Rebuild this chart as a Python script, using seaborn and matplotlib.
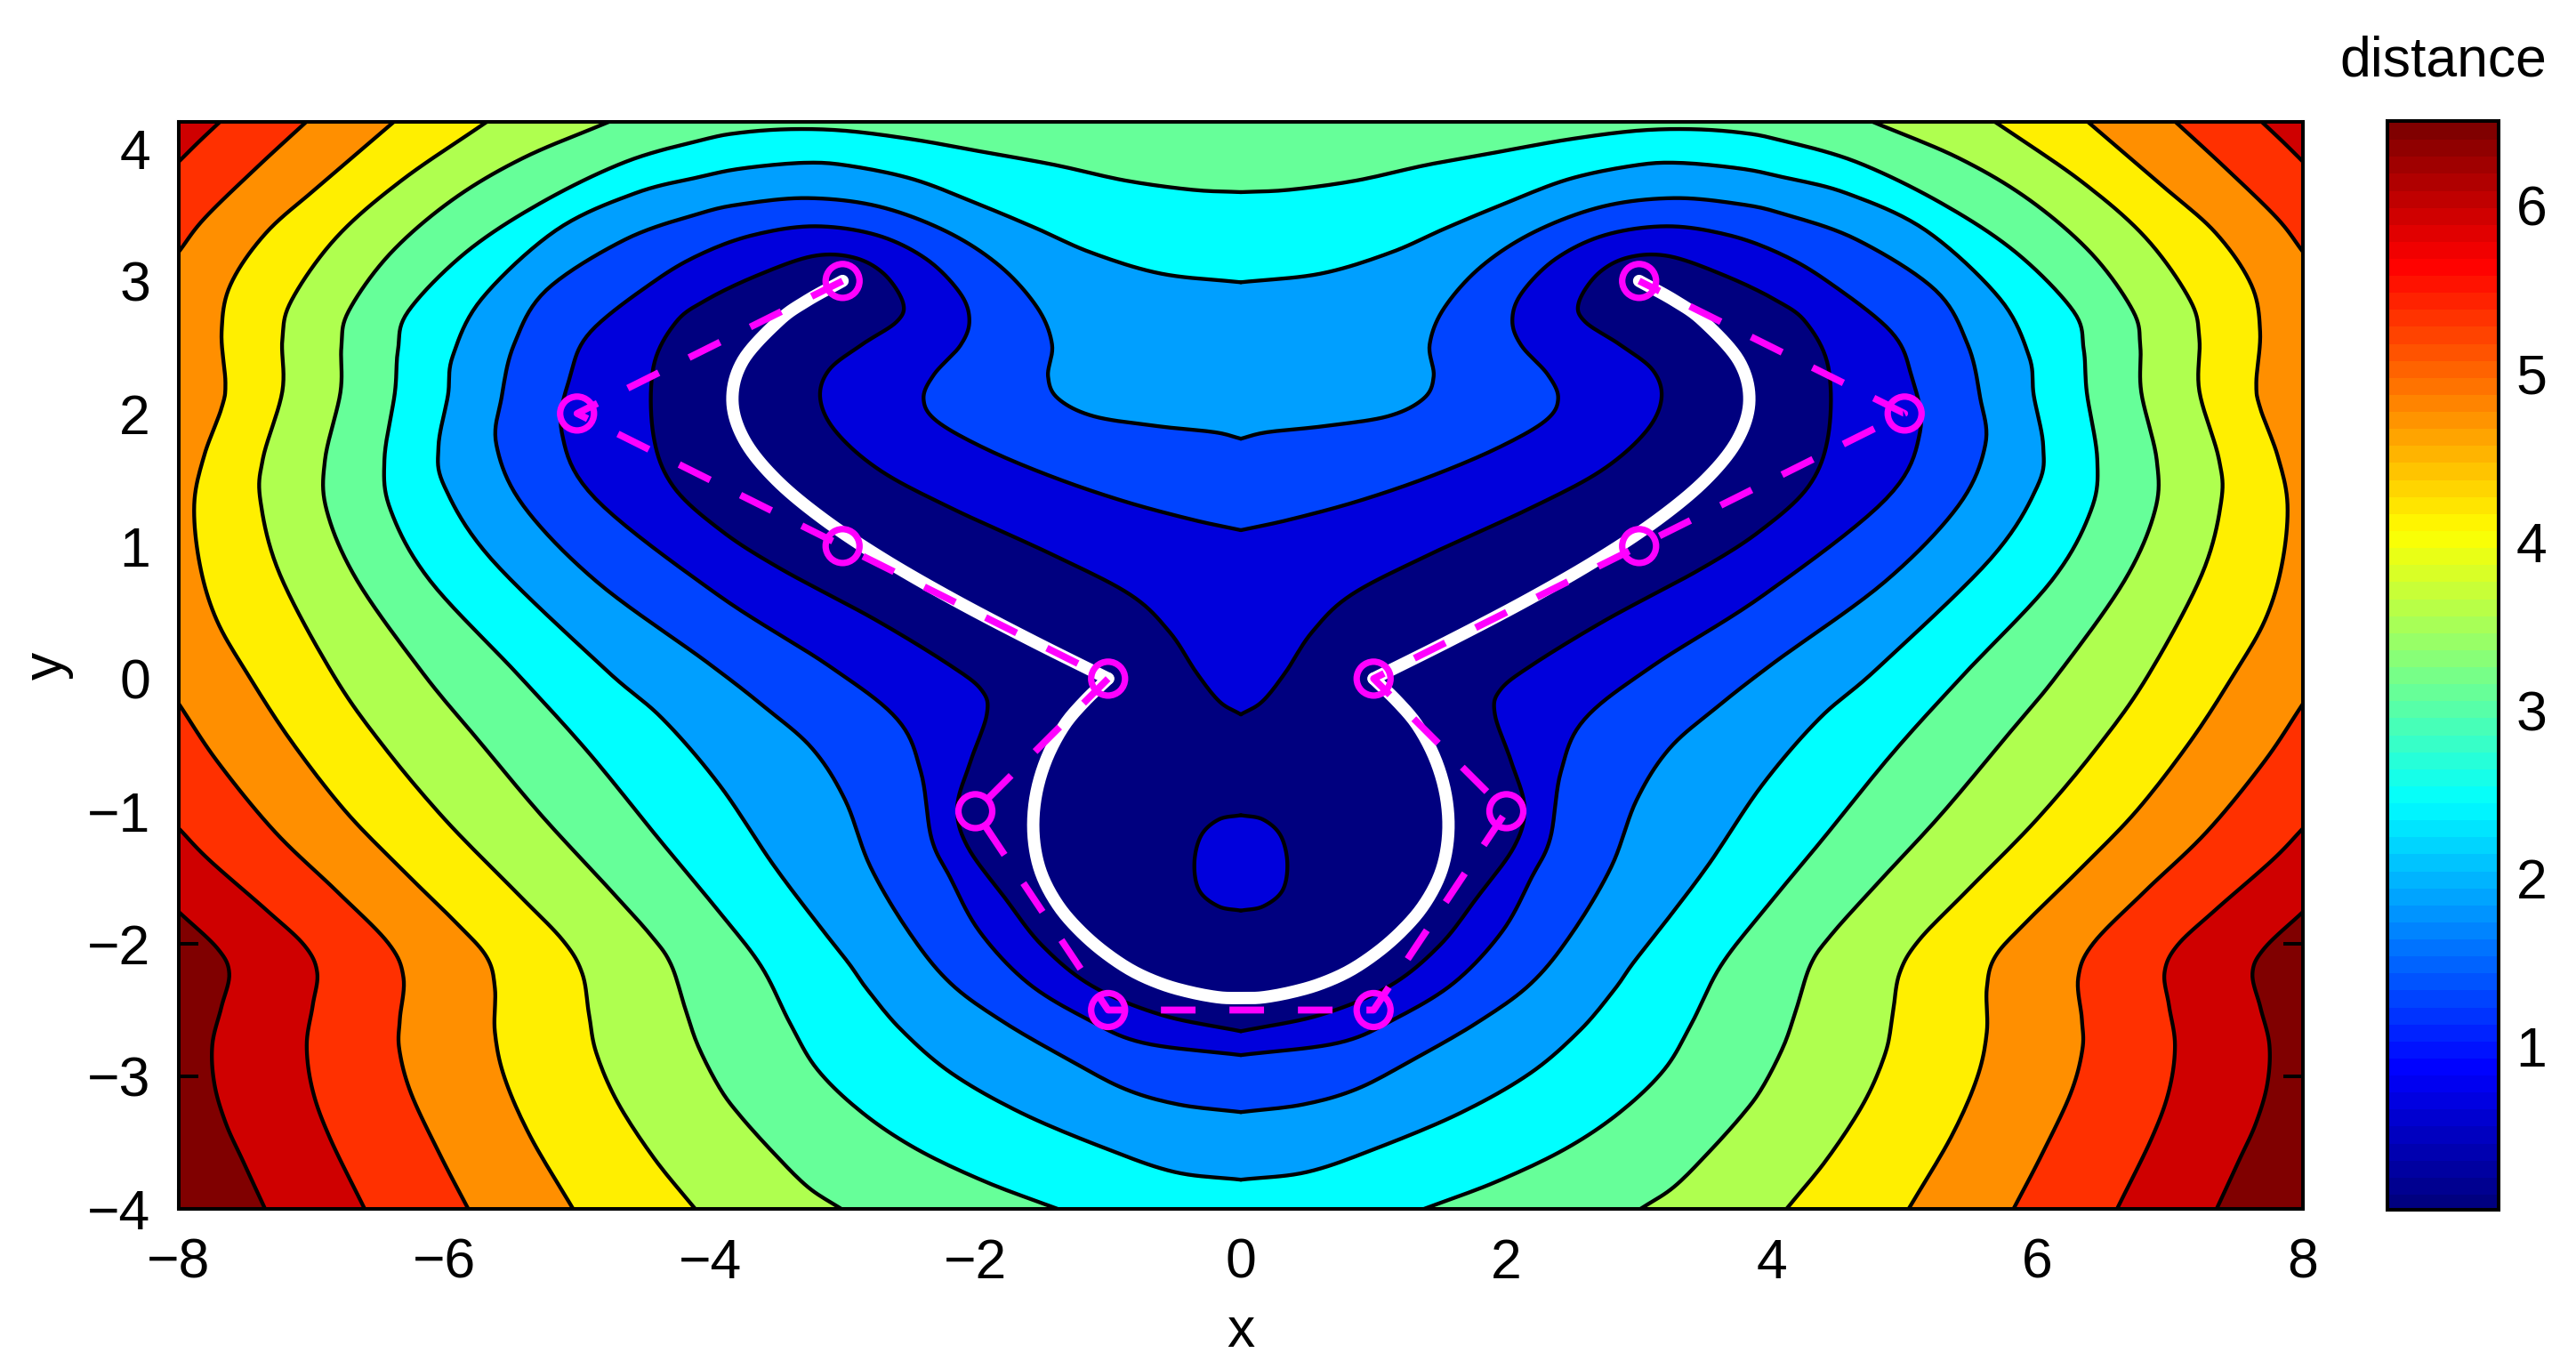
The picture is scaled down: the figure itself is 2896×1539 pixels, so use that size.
import numpy as np
import matplotlib
matplotlib.use("Agg")
import matplotlib.pyplot as plt
from matplotlib.cm import ScalarMappable
from matplotlib.colors import LinearSegmentedColormap, Normalize
import seaborn as sns

# ---------------------------
# Data
# ---------------------------

ctrl_x = [-3, -5, -3, -1, -2, -1, 1, 2, 1, 3, 5, 3]
ctrl_y = [3, 2, 1, 0, -1, -2.5, -2.5, -1, 0, 1, 2, 3]

# white curve, left half only (the chart is mirrored around x=0)
curve_top = [(-3.0, 3.0), (-3.27, 2.85), (-3.48, 2.7), (-3.75, 2.4), (-3.83, 2.1), (-3.74, 1.8), (-3.5, 1.5),
             (-3.14, 1.2), (-2.69, 0.9), (-2.17, 0.6), (-1.6, 0.3), (-1.0, 0.0)]
curve_loop = [(-1.0, 0.0), (-1.18, -0.17), (-1.33, -0.34), (-1.46, -0.58), (-1.54, -0.83), (-1.57, -1.08),
              (-1.55, -1.32), (-1.49, -1.52), (-1.37, -1.73), (-1.22, -1.9), (-1.04, -2.06), (-0.82, -2.21),
              (-0.59, -2.31), (-0.37, -2.37), (-0.15, -2.41), (0.0, -2.41)]

# iso-distance lines, left half, one list per line piece
iso_062 = [[(0, -0.27), (-0.16, -0.19), (-0.33, 0.03), (-0.53, 0.36), (-0.79, 0.63), (-1.4, 0.93), (-2.2, 1.29),
            (-2.73, 1.56), (-3.07, 1.86), (-3.19, 2.11), (-3.13, 2.33), (-2.86, 2.52), (-2.56, 2.7), (-2.52, 2.82),
            (-2.68, 3.07), (-2.91, 3.19), (-3.21, 3.21), (-3.66, 3.04), (-4.05, 2.85), (-4.26, 2.71), (-4.45, 2.38),
            (-4.44, 1.81), (-4.31, 1.45), (-3.92, 1.11), (-3.52, 0.85), (-2.73, 0.44), (-2.15, 0.08), (-1.93, -0.09),
            (-1.89, -0.24), (-2.04, -0.63), (-2.16, -0.98), (-2.09, -1.25), (-1.77, -1.66), (-1.51, -2.02),
            (-1.14, -2.33), (-0.61, -2.55), (0, -2.66)]]
iso_hole = [[(0, -1.03), (-0.17, -1.05), (-0.31, -1.17), (-0.36, -1.39), (-0.33, -1.61), (-0.17, -1.73), (0, -1.75)]]
iso_120 = [[(0, 1.12), (-0.34, 1.19), (-0.87, 1.33), (-1.4, 1.51), (-1.93, 1.73), (-2.33, 1.95), (-2.41, 2.11),
            (-2.33, 2.29), (-2.09, 2.52), (-2.03, 2.7), (-2.09, 2.9), (-2.36, 3.18), (-2.73, 3.36), (-3.21, 3.43),
            (-3.66, 3.36), (-4.05, 3.22), (-4.37, 3.04), (-4.96, 2.6), (-5.05, 2.3), (-5.15, 1.86), (-4.97, 1.4),
            (-3.92, 0.6), (-3.06, 0.08), (-2.54, -0.31), (-2.4, -0.68), (-2.34, -1.25), (-2.2, -1.47), (-1.99, -1.91),
            (-1.62, -2.31), (-1.14, -2.58), (-0.79, -2.76), (0, -2.84)]]
iso_179 = [[(0, 1.81), (-0.16, 1.86), (-0.61, 1.9), (-1.14, 1.97), (-1.4, 2.11), (-1.47, 2.27), (-1.4, 2.52),
            (-1.51, 2.79), (-1.8, 3.12), (-2.2, 3.38), (-2.73, 3.58), (-3.26, 3.64), (-3.79, 3.58), (-4.05, 3.52),
            (-4.63, 3.34), (-5.29, 2.93), (-5.49, 2.52), (-5.57, 2.11), (-5.64, 1.78), (-5.45, 1.32), (-4.9, 0.74),
            (-3.95, 0.08), (-3.58, -0.22), (-3.21, -0.52), (-2.97, -0.9), (-2.81, -1.42), (-2.49, -1.94),
            (-2.2, -2.31), (-1.8, -2.59), (-1.27, -2.89), (-0.87, -3.11), (-0.48, -3.22), (0, -3.27)]]
iso_238 = [[(0, 2.99), (-0.61, 3.04), (-1.14, 3.21), (-1.54, 3.4), (-1.93, 3.56), (-2.46, 3.78), (-2.99, 3.88),
            (-3.26, 3.9), (-3.79, 3.85), (-4.05, 3.79), (-4.55, 3.68), (-5.16, 3.42), (-5.77, 2.85), (-5.96, 2.41),
            (-5.96, 2.16), (-6.06, 1.73), (-6.03, 1.48), (-5.74, 0.96), (-4.71, -0.01), (-4.37, -0.27), (-3.92, -0.79),
            (-3.52, -1.42), (-3.18, -1.86), (-2.94, -2.16), (-2.83, -2.33), (-2.57, -2.65), (-2.2, -2.98),
            (-1.67, -3.28), (-1.01, -3.55), (-0.5, -3.74), (0, -3.78)]]
iso_297 = [[(0, 3.67), (-0.34, 3.68), (-0.87, 3.75), (-1.4, 3.88), (-1.93, 3.97), (-2.46, 4.07), (-2.99, 4.14),
            (-3.39, 4.15), (-3.79, 4.12), (-4.0, 4.08), (-4.63, 3.92), (-5.29, 3.59), (-5.85, 3.23), (-6.33, 2.74),
            (-6.35, 2.49), (-6.36, 2.19), (-6.47, 1.62), (-6.43, 1.29), (-6.17, 0.77), (-5.4, -0.01), (-4.92, -0.54),
            (-4.37, -1.23), (-3.92, -1.77), (-3.6, -2.16), (-3.39, -2.62), (-3.21, -2.95), (-2.86, -3.28),
            (-2.46, -3.55), (-1.93, -3.8), (-1.38, -4.0)]]
iso_356 = [[(-4.76, 4.2), (-5.43, 3.93), (-5.95, 3.62), (-6.43, 3.21), (-6.76, 2.74), (-6.78, 2.52), (-6.76, 2.19),
            (-6.92, 1.62), (-6.91, 1.29), (-6.7, 0.77), (-6.13, -0.01), (-5.77, -0.43), (-5.27, -1.04), (-4.76, -1.58),
            (-4.42, -1.96), (-4.29, -2.13), (-4.18, -2.51), (-4.1, -2.76), (-3.92, -3.11), (-3.79, -3.28),
            (-3.52, -3.58), (-3.26, -3.85), (-3.01, -4.0)]]
iso_415 = [[(-5.68, 4.2), (-6.35, 3.75), (-6.83, 3.34), (-7.19, 2.82), (-7.23, 2.58), (-7.19, 2.19), (-7.39, 1.62),
            (-7.4, 1.37), (-7.28, 0.82), (-6.82, -0.02), (-6.48, -0.49), (-6.01, -1.06), (-5.43, -1.64), (-5.08, -1.99),
            (-4.95, -2.21), (-4.91, -2.54), (-4.87, -2.81), (-4.71, -3.19), (-4.42, -3.63), (-4.11, -4.0)]]
iso_474 = [[(-6.38, 4.2), (-6.96, 3.7), (-7.36, 3.37), (-7.64, 2.96), (-7.69, 2.63), (-7.64, 2.19), (-7.66, 2.08),
            (-7.82, 1.67), (-7.9, 1.33), (-7.85, 0.85), (-7.73, 0.44), (-7.48, 0.03), (-7.17, -0.46), (-6.75, -1.01),
            (-6.33, -1.43), (-5.88, -1.87), (-5.66, -2.1), (-5.61, -2.32), (-5.63, -2.67), (-5.56, -3.0),
            (-5.37, -3.44), (-5.03, -4.0)]]
iso_533 = [[(-7.04, 4.2), (-7.41, 3.86), (-7.84, 3.45), (-8, 3.22)],
           [(-8, -0.19), (-7.73, -0.61), (-7.28, -1.17), (-6.8, -1.61), (-6.38, -2.02), (-6.29, -2.24), (-6.34, -2.59),
            (-6.35, -2.78), (-6.27, -3.11), (-6.03, -3.6), (-5.82, -4.0)]]
iso_591 = [[(-7.69, 4.2), (-7.85, 4.05), (-8, 3.9)],
           [(-8, -1.13), (-7.81, -1.34), (-7.31, -1.77), (-7.03, -2.02), (-6.94, -2.21), (-6.99, -2.46), (-7.05, -2.76),
            (-7.0, -3.11), (-6.88, -3.44), (-6.6, -4.0)]]
iso_650 = [[(-8, 4.2)],
           [(-8, -1.76), (-7.68, -2.05), (-7.6, -2.21), (-7.68, -2.48), (-7.76, -2.76), (-7.74, -3.06), (-7.65, -3.36),
            (-7.52, -3.63), (-7.35, -4.0)]]

# region below each line and its fill colour, highest line first
iso_lines = [iso_650, iso_591, iso_533, iso_474, iso_415, iso_356, iso_297, iso_238, iso_179, iso_120, iso_062, iso_hole]
band_colors = ["#CF0000", "#FF3000", "#FF8F00", "#FFEF00", "#AFFF4F", "#66FF99", "#00FFFF", "#009FFF",
               "#0044FF", "#0000DC", "#00007F", "#0000DC"]
top_color = "#800000"

x_ticks = list(range(-8, 9, 2))
y_ticks = list(range(-4, 5))
cbar_ticks = [1, 2, 3, 4, 5, 6]
cbar_min, cbar_max = 0.03, 6.5


def smooth_piece(points, n=10, relax=True):
    # Catmull-Rom through the read points, only so the lines do not look faceted
    p = np.array(points, dtype=float)
    if len(p) < 3:
        return p
    if relax:
        p[1:-1] = 0.75 * p[1:-1] + 0.125 * (p[:-2] + p[2:])
    p = np.vstack([2 * p[0] - p[1], p, 2 * p[-1] - p[-2]])
    out = []
    for i in range(1, len(p) - 2):
        t = np.linspace(0, 1, n, endpoint=False)[:, None]
        out.append(0.5 * (2 * p[i] + (p[i + 1] - p[i - 1]) * t
                          + (2 * p[i - 1] - 5 * p[i] + 4 * p[i + 1] - p[i + 2]) * t ** 2
                          + (3 * p[i] - p[i - 1] - 3 * p[i + 1] + p[i + 2]) * t ** 3))
    out.append(p[-2:-1])
    return np.vstack(out)


def mirror(p):
    return p[::-1] * np.array([-1, 1])


# ---------------------------
# Figure
# ---------------------------

sns.set_style("white")
plt.rcParams["font.family"] = ["Liberation Sans", "DejaVu Sans"]
plt.rcParams["font.size"] = 22.5
plt.rcParams["text.color"] = "black"
plt.rcParams["axes.labelcolor"] = "black"
plt.rcParams["xtick.color"] = "black"
plt.rcParams["ytick.color"] = "black"

W, H = 2896, 1539
fig = plt.figure(figsize=(W / 200, H / 200), dpi=200)
ax = fig.add_axes([201 / W, 1 - 1359 / H, 2388 / W, 1222 / H])
cax = fig.add_axes([2684 / W, 1 - 1360 / H, 125 / W, 1224 / H])

ax.set_facecolor(top_color)
for pieces, color in zip(iso_lines, band_colors):
    smooth = [smooth_piece(piece) for piece in pieces]
    half = np.vstack(smooth)
    outline = np.vstack([half, mirror(half)])
    ax.fill(outline[:, 0], outline[:, 1], color=color, lw=0, zorder=1)
    for part in smooth:
        if len(part) < 2:
            continue
        for line in (part, mirror(part)):
            sns.lineplot(x=line[:, 0], y=line[:, 1], sort=False, estimator=None, color="black",
                         linewidth=1.55, ax=ax, zorder=2)

top = smooth_piece(curve_top, relax=False)
loop = smooth_piece(curve_loop)
loop = np.vstack([loop, mirror(loop)])
for line in (top, mirror(top), loop):
    sns.lineplot(x=line[:, 0], y=line[:, 1], sort=False, estimator=None, color="white",
                 linewidth=5, ax=ax, zorder=3)

sns.lineplot(x=ctrl_x, y=ctrl_y, sort=False, estimator=None, color="#FF00FF", linewidth=2.8,
             linestyle=(0, (5, 4.9)), dash_capstyle="butt", ax=ax, zorder=4)
sns.scatterplot(x=ctrl_x, y=ctrl_y, s=188, facecolor="none", edgecolor="#FF00FF", linewidth=2.6,
                ax=ax, zorder=5)

ax.set_xlim(-8, 8)
ax.set_ylim(-4, 4.2)
ax.set_xticks(x_ticks)
ax.set_yticks(y_ticks)
ax.set_xlabel("x", labelpad=6.5)
ax.set_ylabel("y", labelpad=5.5)
ax.tick_params(direction="in", length=8, width=1.45, top=True, right=True, bottom=True, left=True,
               pad=11.5, labelsize=22.5, color="black")
for spine in ax.spines.values():
    spine.set_linewidth(1.45)
    spine.set_color("black")
    spine.set_zorder(10)

# ---------------------------
# Colour bar
# ---------------------------

jet = LinearSegmentedColormap("jet_64", {
    "red": [(0, 0, 0), (0.375, 0, 0), (0.625, 1, 1), (0.875, 1, 1), (1, 0.5, 0.5)],
    "green": [(0, 0, 0), (0.125, 0, 0), (0.375, 1, 1), (0.625, 1, 1), (0.875, 0, 0), (1, 0, 0)],
    "blue": [(0, 0.5, 0.5), (0.125, 1, 1), (0.375, 1, 1), (0.625, 0, 0), (1, 0, 0)],
}, N=64)
cbar = fig.colorbar(ScalarMappable(Normalize(cbar_min, cbar_max), jet), cax=cax)
cbar.set_ticks(cbar_ticks)
cbar.solids.set_edgecolor("face")
cax.tick_params(direction="in", length=6, width=1.45, left=True, right=True, pad=7, labelsize=22.5, color="black")
cbar.outline.set_linewidth(1.45)
cbar.outline.set_edgecolor("black")
cax.set_title("distance", fontsize=22.5, pad=18)

fig.savefig("out.png", dpi=200)
